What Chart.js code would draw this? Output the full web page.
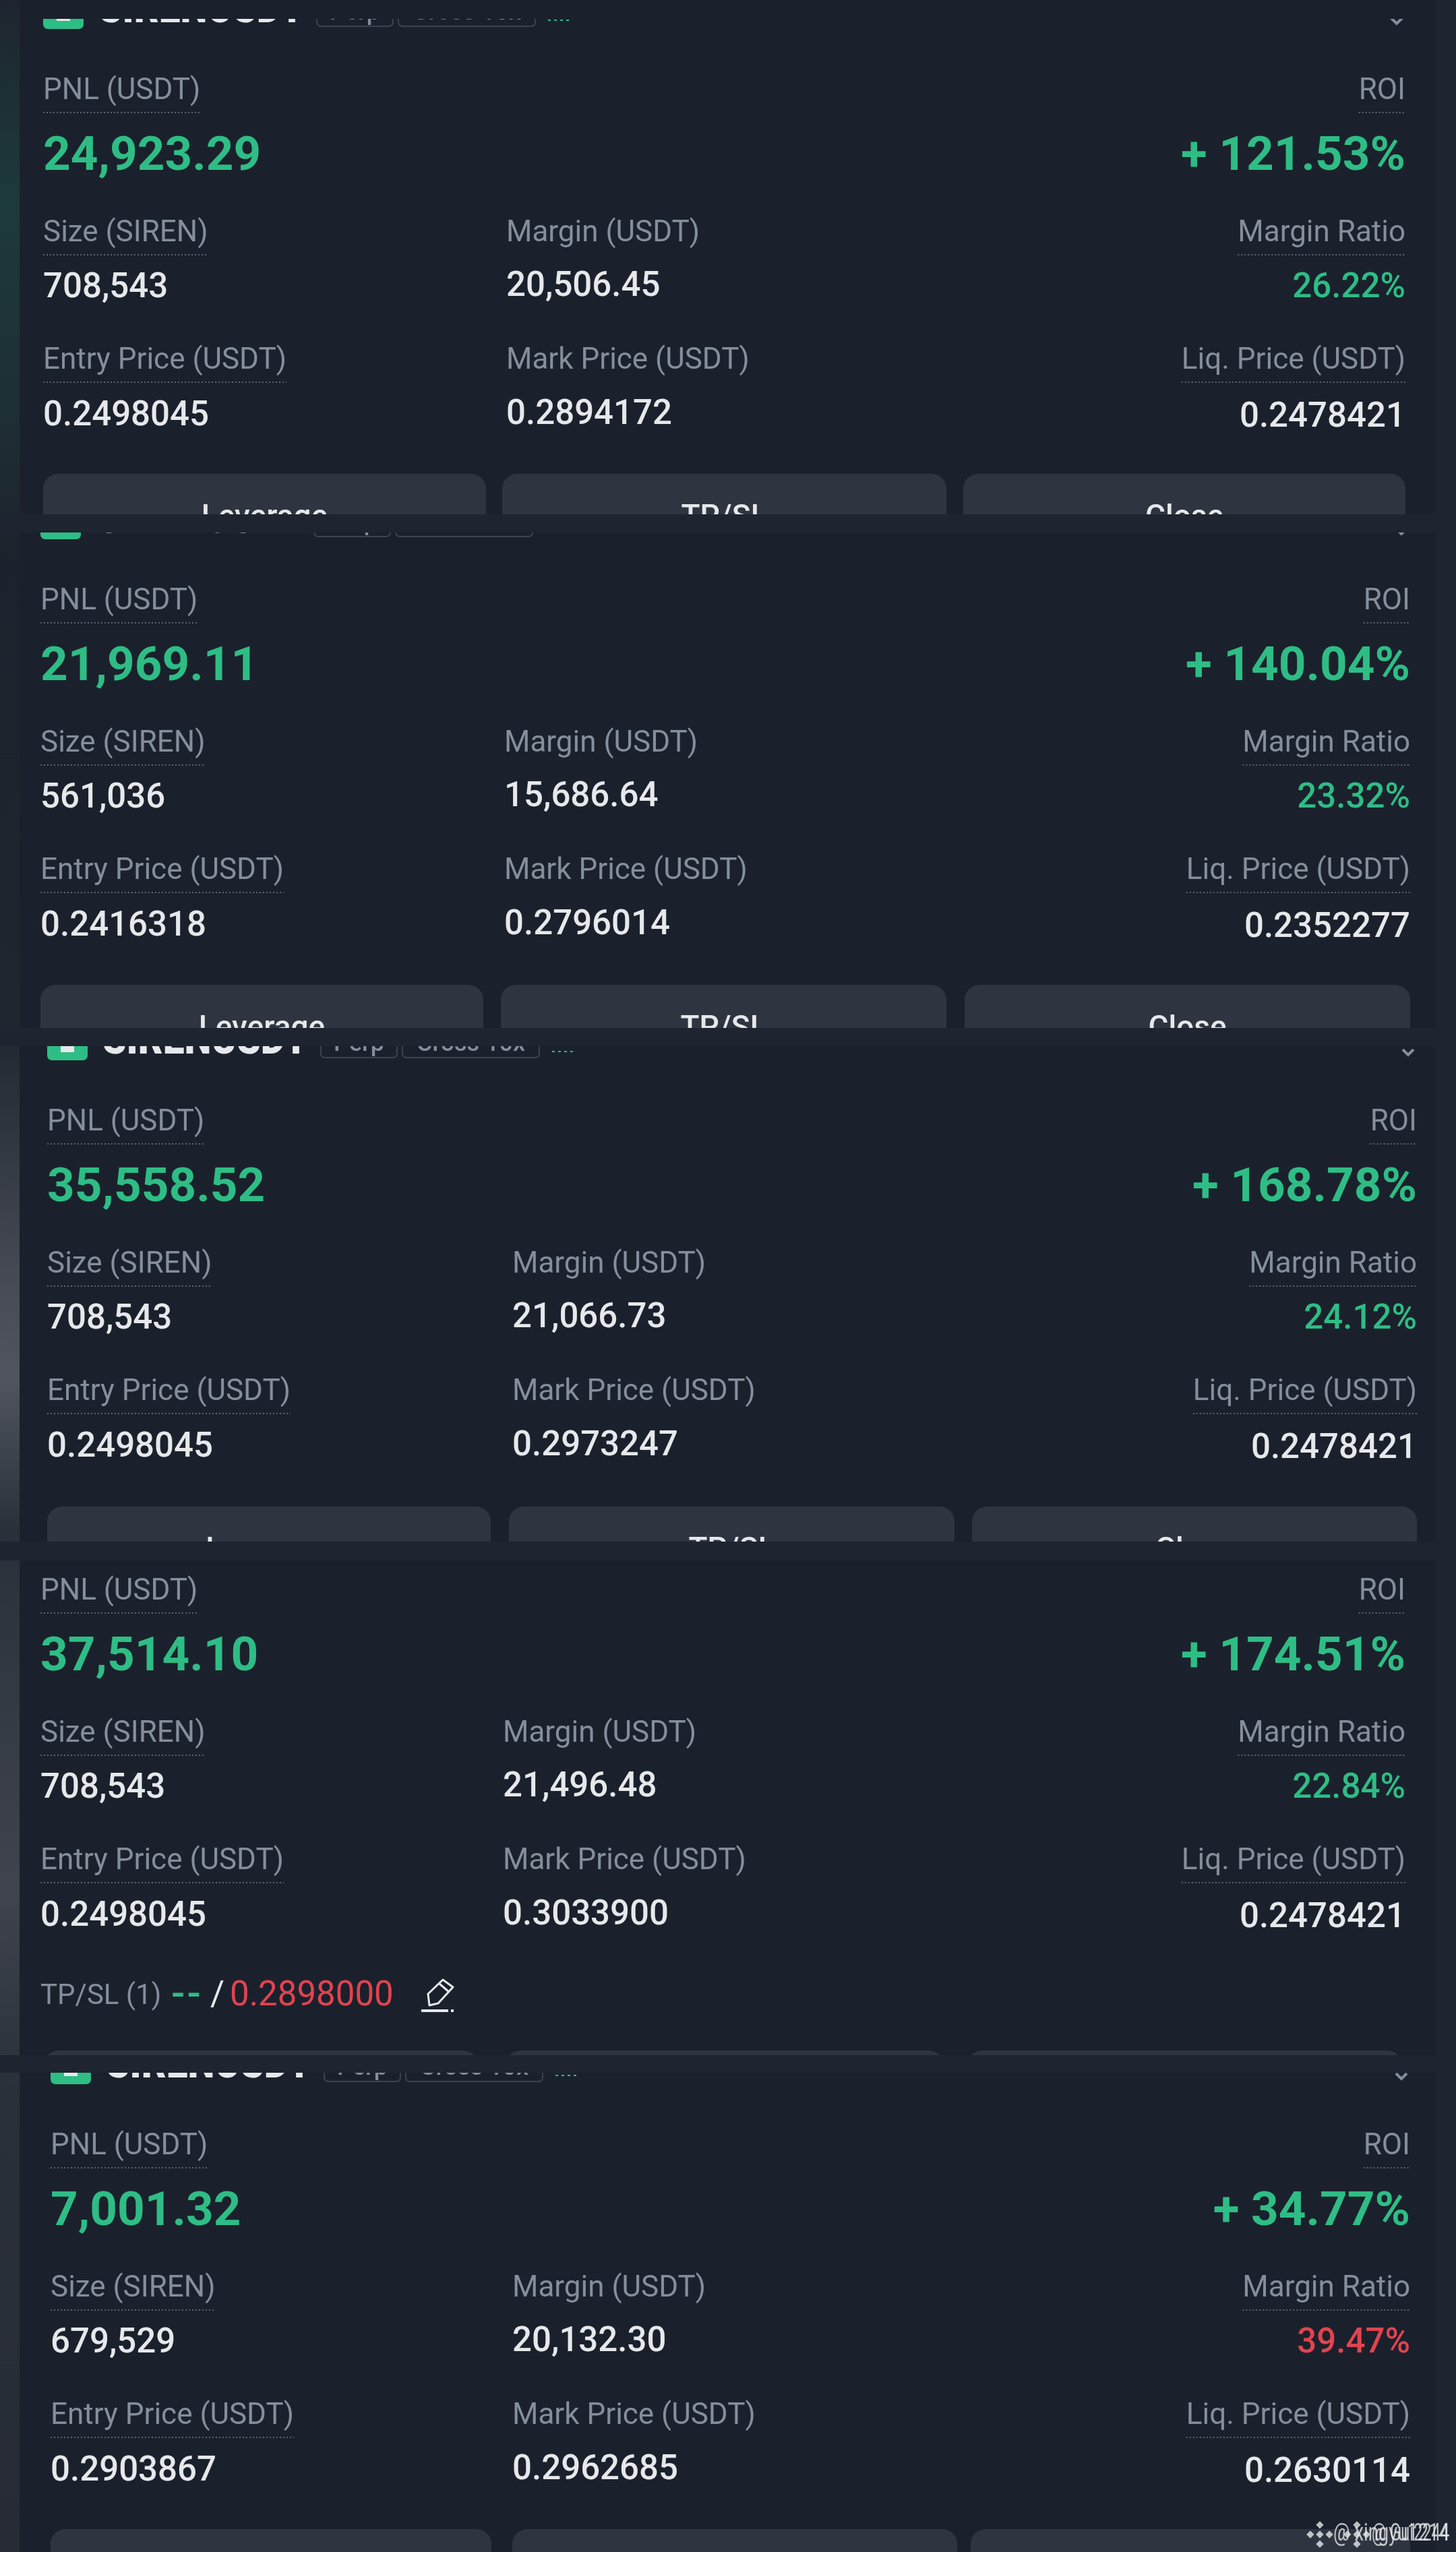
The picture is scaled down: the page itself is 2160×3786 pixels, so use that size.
<!DOCTYPE html>
<html><head><meta charset="utf-8">
<style>html,body{margin:0;padding:0;background:#1b212c}canvas{display:block}</style>
<script src="https://cdn.jsdelivr.net/npm/chart.js@4"></script>
</head><body><canvas id="c" width="2160" height="3786"></canvas>
<script>
const pnl=["24,923.29","21,969.11","35,558.52","37,514.10","7,001.32"];
const roi=["+ 121.53%","+ 140.04%","+ 168.78%","+ 174.51%","+ 34.77%"];
const size=["708,543","561,036","708,543","708,543","679,529"];
const margin=["20,506.45","15,686.64","21,066.73","21,496.48","20,132.30"];
const marginRatio=["26.22%","23.32%","24.12%","22.84%","39.47%"];
const entry=["0.2498045","0.2416318","0.2498045","0.2498045","0.2903867"];
const mark=["0.2894172","0.2796014","0.2973247","0.3033900","0.2962685"];
const liq=["0.2478421","0.2352277","0.2478421","0.2478421","0.2630114"];
const ratioIsRisk=[false,false,false,false,true];
const buttonLabels=["Leverage","TP/SL","Close"];
const tpsl={label:"TP/SL (1)",tp:"--",slash:"/",sl:"0.2898000"};
const symbol="SIRENUSDT", tags=["Perp","Cross 10x"];

// layout (page units)
const colX=[[64,751,2085],[60,748,2092],[70,760,2102],[60,746,2085],[75,760,2092]];
const topY=[134,891,1664,2360,3183];
const btnX=[[64,721,745,1404,1429,2085],[60,717,743,1404,1431,2092],[70,728,755,1416,1442,2102],[65,709,750,1400,1435,2080],[75,729,760,1420,1440,2092]];
const btnTop=[703,1461,2235,3042,3752];
const btnEnd=[763,1525,2287,3049,3786];
const bands=[[763,790],[1525,1552],[2287,2315],[3049,3075]];
const headClip=[28,790,1552,null,3075];
const G="#2ebd85",R="#e0444f",W="#e6e8eb",L="#848e9c";
const FF='Roboto, sans-serif';
const lab='400 44px '+FF, val='500 51px '+FF, big='700 71px '+FF;

const fields=[
 {title:"PNL (USDT)",c:0,r:0,font:lab,color:L,dot:true},
 {title:"ROI",c:2,r:0,font:lab,color:L,dot:true},
 {vals:pnl,c:0,r:98,font:big,color:G},
 {vals:roi,c:2,r:98,font:big,color:G},
 {title:"Size (SIREN)",c:0,r:211,font:lab,color:L,dot:true},
 {title:"Margin (USDT)",c:1,r:211,font:lab,color:L,dot:false},
 {title:"Margin Ratio",c:2,r:211,font:lab,color:L,dot:true},
 {vals:size,c:0,r:292,font:val,color:W},
 {vals:margin,c:1,r:290,font:val,color:W},
 {vals:marginRatio,c:2,r:292,font:val,color:G,risk:true},
 {title:"Entry Price (USDT)",c:0,r:400,font:lab,color:L,dot:true},
 {title:"Mark Price (USDT)",c:1,r:400,font:lab,color:L,dot:false},
 {title:"Liq. Price (USDT)",c:2,r:400,font:lab,color:L,dot:true},
 {vals:entry,c:0,r:482,font:val,color:W},
 {vals:mark,c:1,r:480,font:val,color:W},
 {vals:liq,c:2,r:484,font:val,color:W}
];
const datasets=fields.map(f=>({
  label:f.title||'value',
  data:topY.map((y,p)=>({x:colX[p][f.c],y:y+f.r})),
  pointRadius:0,showLine:false,field:f
}));

const painter={id:'painter',
 beforeDatasetsDraw(ch){
  const c=ch.ctx,X=v=>ch.scales.x.getPixelForValue(v),Y=v=>ch.scales.y.getPixelForValue(v);
  c.save();
  c.fillStyle='#1b212c';c.fillRect(X(0),Y(0),X(2160),Y(3786));
  // side strips
  const g=c.createLinearGradient(0,Y(0),0,Y(3786));
  [[0,'#1e2530'],[.08,'#1d3a3a'],[.17,'#1e2d33'],[.22,'#1c222d'],[.40,'#20262f'],[.50,'#454a53'],[.54,'#50555e'],[.60,'#2a303a'],[.74,'#3f444d'],[.82,'#2a3038'],[1,'#262b36']].forEach(s=>g.addColorStop(s[0],s[1]));
  c.fillStyle=g;c.fillRect(X(0),Y(0),X(29),Y(3786));
  c.fillStyle='#1f2530';c.fillRect(X(2130),Y(0),X(30),Y(3786));
  // buttons
  topY.forEach((t,p)=>{
   for(let b=0;b<3;b++){
    const x0=X(btnX[p][b*2]),x1=X(btnX[p][b*2+1]),y0=Y(btnTop[p]);
    c.save();c.beginPath();c.rect(x0-2,y0-2,x1-x0+4,Y(btnEnd[p])-y0+2);c.clip();
    c.fillStyle='#2f3540';c.beginPath();c.roundRect(x0,y0,x1-x0,110,22);c.fill();
    c.fillStyle=W;c.font='500 46px '+FF;c.textAlign='center';c.textBaseline='alphabetic';
    c.fillText(buttonLabels[b],(x0+x1)/2,y0+78);
    c.restore();
   }
  });
  // headers
  topY.forEach((t,p)=>{
   if(headClip[p]===null)return;
   const d=t-134,x=colX[p][0],top=Y(headClip[p]);
   c.save();c.beginPath();c.rect(X(0),top,X(2160),Y(t)-top-40);c.clip();
   c.fillStyle=G;c.beginPath();c.roundRect(x,Y(d+43-60),60,60,7);c.fill();
   c.fillStyle=W;c.fillRect(x+20,Y(d+43-32),20,20);
   c.font='900 66px '+FF;c.textAlign='left';c.textBaseline='alphabetic';
   c.fillText(symbol,x+82,Y(d+33),305);
   c.strokeStyle='#3b4350';c.lineWidth=2;c.fillStyle='#848e9c';c.font='500 36px '+FF;
   [[406,113,0],[527,203,1]].forEach(q=>{
     c.beginPath();c.roundRect(x+q[0],Y(d+39-48),q[1],48,6);c.stroke();
     c.textAlign='center';c.fillText(tags[q[2]],x+q[0]+q[1]/2,Y(d+29));
   });
   c.setLineDash([4,5]);c.strokeStyle=G;c.beginPath();c.moveTo(x+749,Y(d+30));c.lineTo(x+783,Y(d+30));c.stroke();c.setLineDash([]);
   c.strokeStyle='#848e9c';c.lineWidth=4;c.beginPath();const cx=colX[p][2]-13;c.moveTo(cx-8,Y(d+27));c.lineTo(cx,Y(d+35));c.lineTo(cx+8,Y(d+27));c.stroke();
   c.restore();
  });
  // seams between screenshots
  c.fillStyle='#1e2430';
  bands.forEach(b=>c.fillRect(X(0),Y(b[0]),X(2160),Y(b[1])-Y(b[0])));
  c.restore();
 },
 afterDatasetsDraw(ch){
  const c=ch.ctx,X=v=>ch.scales.x.getPixelForValue(v),Y=v=>ch.scales.y.getPixelForValue(v);
  c.save();c.textBaseline='middle';
  ch.data.datasets.forEach((ds,i)=>{
   const f=ds.field;
   ch.getDatasetMeta(i).data.forEach((el,p)=>{
    const t=f.vals?f.vals[p]:f.title;
    c.font=f.font;c.textAlign=f.c===2?'right':'left';
    c.fillStyle=(f.risk&&ratioIsRisk[p])?R:f.color;
    c.fillText(t,el.x,el.y+2);
    if(f.dot){
     const w=c.measureText(t).width,x0=f.c===2?el.x-w:el.x,x1=f.c===2?el.x:el.x+w;
     c.strokeStyle='#5e6673';c.lineWidth=2;c.setLineDash([2,3]);
     c.beginPath();c.moveTo(x0,el.y+33);c.lineTo(x1,el.y+33);c.stroke();c.setLineDash([]);
    }
   });
  });
  // TP/SL row of the fourth panel
  const ty=Y(2962);c.textAlign='left';
  c.font='400 42px '+FF;c.fillStyle=L;c.fillText(tpsl.label,X(60),ty);
  c.font='500 60px '+FF;c.fillStyle=G;c.letterSpacing='3px';c.fillText(tpsl.tp,X(254),ty);c.letterSpacing='0px';
  c.font='400 51px '+FF;c.fillStyle=W;c.fillText(tpsl.slash,X(312),ty);
  c.fillStyle=R;c.fillText(tpsl.sl,X(341),ty);
  // pencil
  c.strokeStyle=W;c.lineWidth=3;c.lineJoin='round';
  c.beginPath();c.moveTo(X(637),Y(2975));c.lineTo(X(635),Y(2958));c.lineTo(X(657),Y(2937));c.lineTo(X(672),Y(2948));c.lineTo(X(650),Y(2972));c.closePath();c.stroke();
  c.beginPath();c.moveTo(X(652),Y(2943));c.lineTo(X(666),Y(2955));c.stroke();
  c.lineWidth=4;c.beginPath();c.moveTo(X(625),Y(2983));c.lineTo(X(665),Y(2983));c.moveTo(X(669),Y(2983));c.lineTo(X(673),Y(2983));c.stroke();
  // overlapping watermarks
  c.globalAlpha=.8;c.fillStyle='#e6e8ea';c.font='400 36px '+FF;c.textAlign='right';
  c.fillText('@ xingyu1214',X(2150),Y(3760),172);
  c.fillText('@ Gui2244',X(2150),Y(3760),115);
  [1958,2013].forEach(dx=>{
   c.save();c.translate(X(dx),Y(3760));c.rotate(Math.PI/4);
   c.fillRect(-4,-4,8,8);c.fillRect(-14,-14,8,8);c.fillRect(6,6,8,8);c.fillRect(6,-14,8,8);c.fillRect(-14,6,8,8);
   c.restore();
  });
  c.restore();
 }
};

new Chart(document.getElementById('c'),{
 type:'scatter',
 data:{datasets},
 plugins:[painter],
 options:{
  responsive:false,animation:false,devicePixelRatio:1,
  layout:{padding:0},
  plugins:{legend:{display:false},tooltip:{enabled:false},title:{display:false}},
  scales:{
   x:{type:'linear',min:0,max:2160,display:false},
   y:{type:'linear',min:0,max:3786,reverse:true,display:false}
  }
 }
});
</script></body></html>
